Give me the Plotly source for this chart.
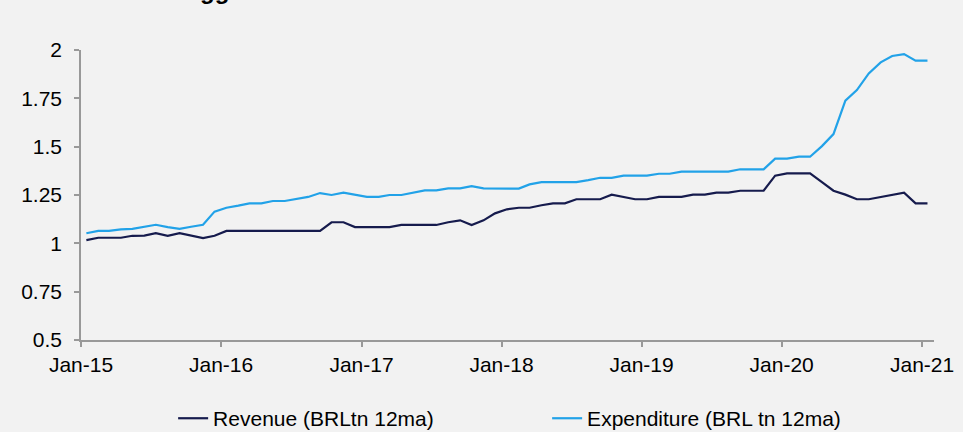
import pandas as pd
import plotly.graph_objects as go

# monthly 12-month moving averages, Jan-15 .. Jan-21 (BRL tn)
months = pd.date_range('2015-01-01', '2021-01-01', freq='MS') + pd.Timedelta(days=14)

revenue = [1.017, 1.029, 1.029, 1.029, 1.039, 1.040, 1.053, 1.039, 1.053, 1.040, 1.027, 1.039,
           1.064, 1.064, 1.064, 1.064, 1.064, 1.064, 1.064, 1.064, 1.064, 1.109, 1.109, 1.084,
           1.084, 1.084, 1.084, 1.095, 1.095, 1.095, 1.095, 1.109, 1.119, 1.095, 1.119, 1.155,
           1.176, 1.184, 1.184, 1.197, 1.207, 1.207, 1.228, 1.228, 1.228, 1.252, 1.240, 1.228,
           1.228, 1.240, 1.240, 1.240, 1.252, 1.252, 1.262, 1.262, 1.272, 1.272, 1.272, 1.350,
           1.362, 1.362, 1.362, 1.317, 1.272, 1.252, 1.228, 1.228, 1.240, 1.252, 1.262, 1.207,
           1.207]
expenditure = [1.052, 1.064, 1.064, 1.072, 1.075, 1.084, 1.096, 1.084, 1.075, 1.086, 1.096, 1.164,
               1.184, 1.195, 1.207, 1.207, 1.219, 1.219, 1.231, 1.240, 1.260, 1.250, 1.262, 1.250,
               1.240, 1.240, 1.250, 1.250, 1.262, 1.274, 1.274, 1.284, 1.284, 1.296, 1.284, 1.284,
               1.284, 1.283, 1.305, 1.317, 1.317, 1.317, 1.317, 1.327, 1.339, 1.339, 1.350, 1.350,
               1.350, 1.360, 1.360, 1.371, 1.371, 1.371, 1.371, 1.371, 1.383, 1.383, 1.383, 1.438,
               1.438, 1.448, 1.448, 1.503, 1.565, 1.738, 1.793, 1.879, 1.936, 1.969, 1.979, 1.945,
               1.945]

year_ticks = pd.date_range('2015-01-01', '2021-01-01', freq='YS')
year_labels = ['Jan-15', 'Jan-16', 'Jan-17', 'Jan-18', 'Jan-19', 'Jan-20', 'Jan-21']
y_ticks = [0.5, 0.75, 1, 1.25, 1.5, 1.75, 2]
y_labels = ['0.5', '0.75', '1', '1.25', '1.5', '1.75', '2']

font = dict(family='Liberation Sans, Arial, sans-serif', size=21, color='black')
bg = '#f2f2f2'
axis_grey = '#999999'

fig = go.Figure()
fig.add_trace(go.Scatter(x=months, y=revenue, mode='lines', name='Revenue (BRLtn 12ma)',
                         line=dict(color='#161b4d', width=2.2)))
fig.add_trace(go.Scatter(x=months, y=expenditure, mode='lines', name='Expenditure (BRL tn 12ma)',
                         line=dict(color='#22a2e8', width=2.2)))

fig.update_layout(width=963, height=432, paper_bgcolor=bg, plot_bgcolor=bg, font=font,
                  margin=dict(l=81, r=29, t=50, b=92, autoexpand=False),
                  legend=dict(orientation='h', x=0.108, xanchor='left', y=-0.271, yanchor='middle',
                              entrywidth=329, entrywidthmode='pixels', font=font,
                              bgcolor='rgba(0,0,0,0)'))

# chart title, cut off at the top edge of the picture
fig.add_annotation(text='<b>Biggest</b>', xref='paper', yref='paper', x=0.163, y=1.152,
                   xanchor='center', yanchor='bottom', showarrow=False,
                   font=dict(family='Liberation Sans, Arial, sans-serif', size=24, color='black'))

fig.update_xaxes(range=['2015-01-01', '2021-02-01'], tickvals=year_ticks, ticktext=year_labels,
                 showgrid=False, zeroline=False, showline=True, linecolor=axis_grey, linewidth=1.5,
                 ticks='outside', ticklen=5, tickcolor=axis_grey, tickwidth=1.5)
fig.update_yaxes(range=[0.5, 2], tickvals=y_ticks, ticktext=y_labels,
                 showgrid=False, zeroline=False, showline=True, linecolor=axis_grey, linewidth=1.5,
                 ticks='outside', ticklen=5, tickcolor=axis_grey, tickwidth=1.5,
                 ticklabelstandoff=8)

fig.write_html('out.html', config={'displayModeBar': False},
               post_script="document.body.style.margin='0';document.body.style.overflow='hidden';")
